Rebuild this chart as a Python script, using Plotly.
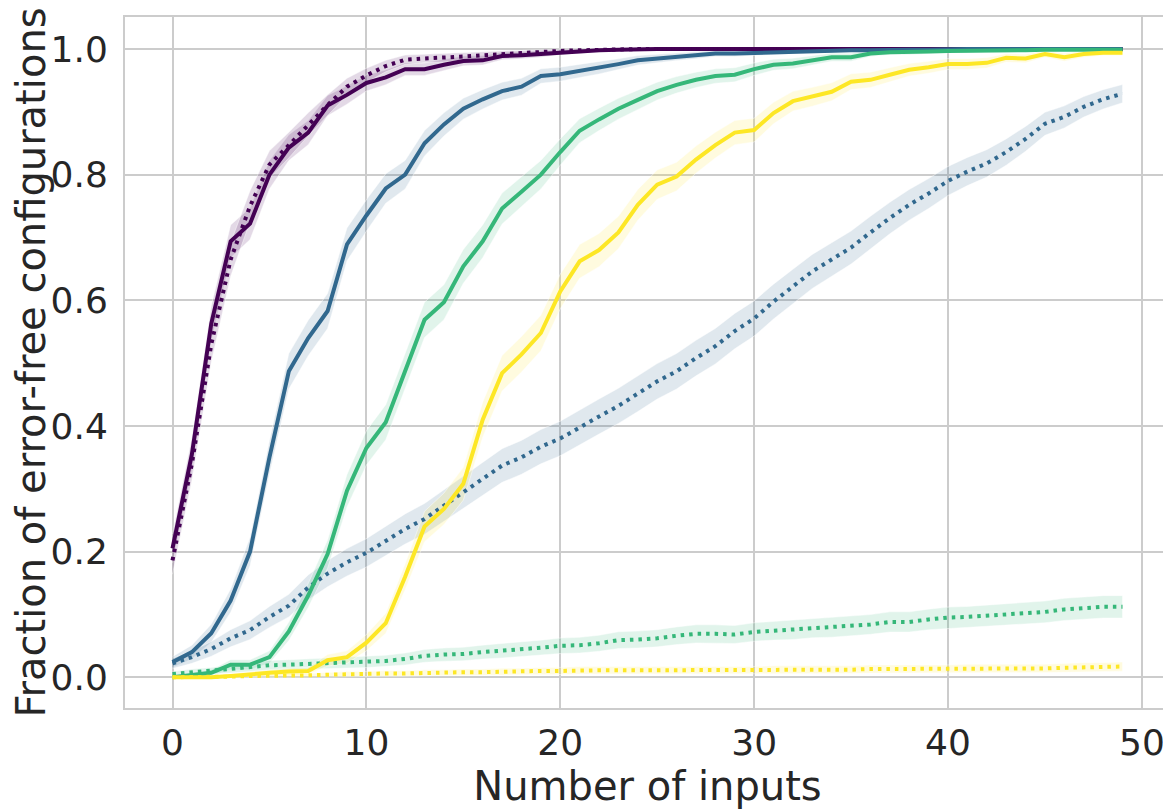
import plotly.graph_objects as go
import math

n_inputs = list(range(50))

purple_solid = [0.205, 0.355, 0.563, 0.694, 0.722, 0.80, 0.843, 0.867, 0.91, 0.927,
                0.946, 0.955, 0.968, 0.968, 0.975, 0.981, 0.982, 0.989, 0.99, 0.992,
                0.995, 0.997, 0.998, 0.999, 1.0, 1.0, 1.0, 1.0, 1.0, 1.0,
                1.0, 1.0, 1.0, 1.0, 1.0, 1.0, 1.0, 1.0, 1.0, 1.0,
                1.0, 1.0, 1.0, 1.0, 1.0, 1.0, 1.0, 1.0, 1.0, 1.0]
purple_dotted = [0.186, 0.34, 0.53, 0.665, 0.75, 0.816, 0.847, 0.88, 0.911, 0.94,
                 0.958, 0.973, 0.983, 0.985, 0.986, 0.988, 0.99, 0.992, 0.993, 0.995,
                 0.997, 0.998, 0.999, 1.0, 1.0, 1.0, 1.0, 1.0, 1.0, 1.0,
                 1.0, 1.0, 1.0, 1.0, 1.0, 1.0, 1.0, 1.0, 1.0, 1.0,
                 1.0, 1.0, 1.0, 1.0, 1.0, 1.0, 1.0, 1.0, 1.0, 1.0]
blue_solid = [0.024, 0.04, 0.07, 0.122, 0.20, 0.35, 0.487, 0.54, 0.583, 0.689,
              0.735, 0.778, 0.80, 0.85, 0.88, 0.905, 0.92, 0.933, 0.94, 0.957,
              0.96, 0.965, 0.97, 0.976, 0.982, 0.985, 0.988, 0.99, 0.993, 0.993,
              0.994, 0.995, 0.996, 0.997, 0.997, 0.998, 0.998, 0.999, 0.999, 0.999,
              1.0, 1.0, 1.0, 1.0, 1.0, 1.0, 1.0, 1.0, 1.0, 1.0]
blue_dotted = [0.022, 0.032, 0.045, 0.062, 0.075, 0.096, 0.114, 0.143, 0.165, 0.183,
               0.198, 0.217, 0.236, 0.252, 0.273, 0.294, 0.316, 0.337, 0.35, 0.367,
               0.38, 0.398, 0.415, 0.432, 0.451, 0.471, 0.487, 0.508, 0.527, 0.551,
               0.571, 0.598, 0.622, 0.646, 0.665, 0.684, 0.708, 0.731, 0.752, 0.77,
               0.79, 0.805, 0.818, 0.836, 0.857, 0.881, 0.892, 0.908, 0.92, 0.929]
green_solid = [0.0, 0.003, 0.007, 0.02, 0.02, 0.032, 0.073, 0.13, 0.196, 0.297,
               0.365, 0.406, 0.488, 0.569, 0.597, 0.654, 0.694, 0.746, 0.773, 0.80,
               0.836, 0.87, 0.888, 0.905, 0.919, 0.933, 0.943, 0.951, 0.957, 0.959,
               0.968, 0.975, 0.977, 0.982, 0.987, 0.987, 0.993, 0.995, 0.995, 0.996,
               0.997, 0.997, 0.998, 0.998, 0.998, 0.999, 0.999, 0.999, 0.999, 0.999]
green_dotted = [0.005, 0.008, 0.01, 0.013, 0.016, 0.019, 0.02, 0.021, 0.022, 0.023,
                0.024, 0.026, 0.029, 0.034, 0.036, 0.037, 0.04, 0.042, 0.044, 0.047,
                0.05, 0.051, 0.054, 0.059, 0.06, 0.062, 0.066, 0.069, 0.069, 0.068,
                0.072, 0.074, 0.075, 0.078, 0.079, 0.081, 0.084, 0.088, 0.088, 0.092,
                0.095, 0.096, 0.098, 0.1, 0.102, 0.104, 0.108, 0.11, 0.112, 0.112]
yellow_solid = [0.0, 0.0, 0.0, 0.002, 0.005, 0.007, 0.009, 0.01, 0.027, 0.032,
                0.055, 0.086, 0.16, 0.24, 0.268, 0.308, 0.41, 0.484, 0.514, 0.548,
                0.614, 0.662, 0.68, 0.708, 0.752, 0.784, 0.797, 0.824, 0.847, 0.867,
                0.871, 0.898, 0.917, 0.924, 0.932, 0.948, 0.951, 0.959, 0.967, 0.971,
                0.976, 0.976, 0.978, 0.986, 0.985, 0.992, 0.987, 0.992, 0.994, 0.994]
yellow_dotted = [0.0, 0.0, 0.001, 0.001, 0.002, 0.002, 0.003, 0.003, 0.004, 0.005,
                 0.005, 0.006, 0.006, 0.007, 0.007, 0.008, 0.008, 0.009, 0.009, 0.01,
                 0.01, 0.011, 0.011, 0.011, 0.011, 0.011, 0.011, 0.011, 0.011, 0.011,
                 0.011, 0.012, 0.012, 0.012, 0.012, 0.012, 0.013, 0.013, 0.013, 0.013,
                 0.013, 0.014, 0.014, 0.014, 0.014, 0.014, 0.015, 0.016, 0.016, 0.017]

x_ticks = [0, 10, 20, 30, 40, 50]
y_ticks = [0.0, 0.2, 0.4, 0.6, 0.8, 1.0]
n_samples = 1200  # trials per point for confidence band

colors = {
    "purple": (68, 1, 84),
    "blue": (49, 104, 142),
    "green": (53, 183, 121),
    "yellow": (253, 231, 37),
}

series = [
    ("purple", "solid", purple_solid),
    ("purple", "dotted", purple_dotted),
    ("blue", "solid", blue_solid),
    ("blue", "dotted", blue_dotted),
    ("green", "solid", green_solid),
    ("green", "dotted", green_dotted),
    ("yellow", "solid", yellow_solid),
    ("yellow", "dotted", yellow_dotted),
]

fig = go.Figure()
# confidence bands first
for cname, style, vals in series:
    r, g, b = colors[cname]
    half = [1.96 * math.sqrt(max(p * (1 - p), 0.0) / n_samples) for p in vals]
    upper = [min(v + h, 1.0) for v, h in zip(vals, half)]
    lower = [max(v - h, 0.0) for v, h in zip(vals, half)]
    fig.add_trace(go.Scatter(
        x=n_inputs + n_inputs[::-1], y=upper + lower[::-1],
        fill="toself", fillcolor=f"rgba({r},{g},{b},0.15)",
        line=dict(color="rgba(255,255,255,0.45)", width=1),
        hoverinfo="skip", showlegend=False, mode="lines"))
# mean lines on top
for cname, style, vals in series:
    r, g, b = colors[cname]
    fig.add_trace(go.Scatter(
        x=n_inputs, y=vals, mode="lines", showlegend=False,
        line=dict(color=f"rgb({r},{g},{b})", width=4,
                  dash="solid" if style == "solid" else "3.5px,5px")))

font_color = "#262626"
fig.update_layout(
    width=1171, height=809,
    margin=dict(l=115, r=9, t=7, b=109),
    paper_bgcolor="white", plot_bgcolor="white",
    font=dict(family="DejaVu Sans", color=font_color, size=36),
    xaxis=dict(
        range=[-2.45, 51.45], tickvals=x_ticks,
        showgrid=True, gridcolor="#cccccc", gridwidth=2,
        showline=True, mirror=True, linecolor="#cccccc", linewidth=2,
        zeroline=False, ticks="", ticklabelstandoff=2,
        tickfont=dict(size=36, color=font_color),
        title=dict(text="Number of inputs", font=dict(size=40, color=font_color), standoff=0),
    ),
    yaxis=dict(
        range=[-0.049, 1.051], tickvals=y_ticks, tickformat=".1f",
        showgrid=True, gridcolor="#cccccc", gridwidth=2,
        showline=True, mirror=True, linecolor="#cccccc", linewidth=2,
        zeroline=False, ticks="", ticklabelstandoff=8,
        tickfont=dict(size=36, color=font_color),
        title=dict(text="Fraction of error-free configurations", font=dict(size=40, color=font_color), standoff=8),
    ),
)

fig.write_html("out.html")
